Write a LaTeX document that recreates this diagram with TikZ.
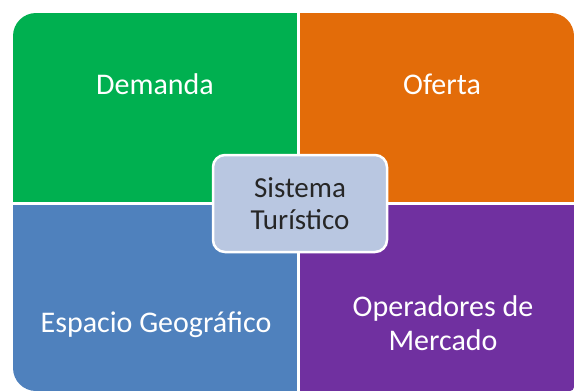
\documentclass[tikz,border=0pt]{standalone}
\usepackage{fontspec}
\setmainfont{Carlito}
\definecolor{qgreen}{HTML}{00B050}
\definecolor{qorange}{HTML}{E36C09}
\definecolor{qblue}{HTML}{4F81BD}
\definecolor{qpurple}{HTML}{7030A0}
\definecolor{cfill}{HTML}{B9C7E1}
\definecolor{ctext}{HTML}{262626}
\tikzset{
  quad/.style={rectangle, inner sep=0pt, draw=none, anchor=north west},
  qlabel/.style={text=white, font=\fontsize{30}{34}\selectfont, align=center, inner sep=0pt},
  center/.style={rectangle, rounded corners=12pt, fill=cfill, draw=white, line width=2.5pt,
    minimum width=174pt, minimum height=97pt, text=ctext, align=center,
    font=\fontsize{29}{32}\selectfont}
}
\begin{document}
\begin{tikzpicture}[x=1pt,y=-1pt]
\useasboundingbox (0,0) rectangle (574,391);
\begin{scope}
\clip (13,110) [rounded corners=23pt] -- (13,13) -- (574,13) [rounded corners=4pt] -- (574,391)
  [rounded corners=23pt] -- (13,391) [sharp corners] -- cycle;
\node[quad, fill=qgreen, minimum width=285pt, minimum height=190pt] (q1) at (12,12) {};
\node[quad, fill=qorange, minimum width=276pt, minimum height=190pt] (q2) at (300,12) {};
\node[quad, fill=qblue, minimum width=285pt, minimum height=188pt] (q3) at (12,205) {};
\node[quad, fill=qpurple, minimum width=276pt, minimum height=188pt] (q4) at (300,205) {};
\end{scope}
\node[qlabel] (l1) at (155,84) {Demanda};
\node[qlabel] (l2) at (442,84) {Oferta};
\node[qlabel] (l3) at (156,325) {Espacio Geográfico};
\node[qlabel] (l4) at (443,323) {Operadores de\\Mercado};
\node[center] (c) at (300,203.5) {Sistema\\Turístico};
\end{tikzpicture}
\end{document}
